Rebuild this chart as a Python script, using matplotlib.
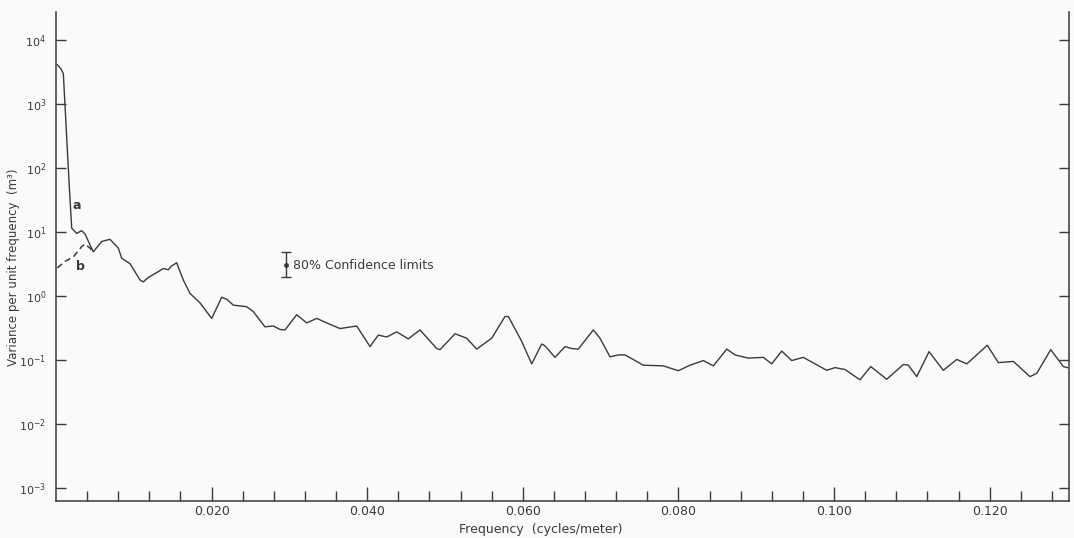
import matplotlib
matplotlib.use("Agg")
import matplotlib.pyplot as plt
from matplotlib.ticker import FixedLocator, NullLocator, FuncFormatter, FormatStrFormatter
import math

# Power spectrum of surface elevation profile
freq_a = [0.00017, 0.00060, 0.00094, 0.00171, 0.00202, 0.00266, 0.00330, 0.00373,
          0.00479, 0.00587, 0.00694, 0.00801, 0.00844, 0.00951, 0.01080, 0.01122,
          0.01186, 0.01294, 0.01379, 0.01443, 0.01487, 0.01551, 0.01636, 0.01722,
          0.01851, 0.02001, 0.02130, 0.02194, 0.02279, 0.02451, 0.02536, 0.02686,
          0.02793, 0.02879, 0.02943, 0.03094, 0.03222, 0.03351, 0.03479, 0.03650,
          0.03865, 0.04036, 0.04143, 0.04251, 0.04379, 0.04528, 0.04679, 0.04893,
          0.04936, 0.05129, 0.05279, 0.05407, 0.05600, 0.05771, 0.05814, 0.05986,
          0.06114, 0.06243, 0.06285, 0.06414, 0.06542, 0.06628, 0.06713, 0.06906,
          0.06992, 0.07121, 0.07228, 0.07314, 0.07549, 0.07806, 0.07999, 0.08149,
          0.08320, 0.08449, 0.08621, 0.08728, 0.08898, 0.09091, 0.09199, 0.09328,
          0.09456, 0.09605, 0.09713, 0.09906, 0.10013, 0.10141, 0.10334, 0.10472,
          0.10677, 0.10891, 0.10955, 0.11063, 0.11221, 0.11405, 0.11577, 0.11706,
          0.11970, 0.12112, 0.12305, 0.12519, 0.12606, 0.12785, 0.12947, 0.12999]
var_a = [4100, 3600, 3000, 51, 11.5, 9.5, 10.5, 9.3,
         4.9, 7.1, 7.7, 5.6, 3.9, 3.2, 1.78, 1.66,
         1.95, 2.32, 2.69, 2.57, 2.95, 3.31, 1.78, 1.10,
         0.78, 0.447, 0.955, 0.89, 0.72, 0.68, 0.57, 0.33,
         0.34, 0.30, 0.295, 0.51, 0.38, 0.447, 0.38, 0.31,
         0.34, 0.162, 0.245, 0.229, 0.275, 0.214, 0.295, 0.151,
         0.145, 0.257, 0.219, 0.148, 0.219, 0.479, 0.479, 0.195,
         0.087, 0.178, 0.166, 0.110, 0.162, 0.151, 0.148, 0.295,
         0.219, 0.112, 0.120, 0.120, 0.083, 0.081, 0.068, 0.083,
         0.098, 0.081, 0.148, 0.120, 0.107, 0.110, 0.087, 0.138,
         0.098, 0.110, 0.093, 0.069, 0.076, 0.071, 0.049, 0.079,
         0.050, 0.085, 0.083, 0.055, 0.135, 0.069, 0.102, 0.087,
         0.170, 0.091, 0.095, 0.055, 0.062, 0.145, 0.079, 0.076]

# Spectrum after trend removal (low-frequency part only)
freq_b = [0.00017, 0.00116, 0.00222, 0.00330, 0.00373, 0.00437, 0.00479]
var_b = [2.75, 3.47, 4.07, 5.9, 6.5, 5.6, 4.9]

# 80% confidence interval marker
ci_freq = 0.0296
ci_center = 3.05
ci_low = 1.98
ci_high = 4.87

x_major = [0.020, 0.040, 0.060, 0.080, 0.100, 0.120]
x_minor = [0.004 * k for k in range(1, 33) if k % 5 != 0]
y_decades = [1e-3, 1e-2, 1e-1, 1e0, 1e1, 1e2, 1e3, 1e4]

ink = "#3a3a3a"
bg = "#f9faf9"


def decade_label(v, pos):
    e = int(round(math.log10(v)))
    return r"$\mathregular{10^{%s}}$" % ("-%d" % -e if e < 0 else "%d" % e)


fig = plt.figure(figsize=(10.74, 5.38), dpi=100, facecolor=bg)
ax = fig.add_axes([56 / 1074, 1 - 501 / 538, (1069 - 56) / 1074, (501 - 12) / 538])
ax.set_facecolor(bg)

ax.plot(freq_a, var_a, color=ink, lw=1.0)
ax.plot(freq_b, var_b, color=ink, lw=1.1, dashes=(4, 2.5))

ax.errorbar([ci_freq], [ci_center],
            yerr=[[ci_center - ci_low], [ci_high - ci_center]],
            fmt="o", ms=2.5, color=ink, ecolor=ink, elinewidth=1.0,
            capsize=3.5, capthick=1.0)
ax.text(ci_freq + 0.0008, ci_center, "80% Confidence limits",
        fontsize=9, color=ink, va="center", ha="left")

ax.text(0.0027, 26, "a", fontsize=9, color=ink, ha="center", va="center",
        fontweight="bold")
ax.text(0.0031, 2.87, "b", fontsize=9, color=ink, ha="center", va="center",
        fontweight="bold")

ax.set_yscale("log")
ax.set_xlim(0, 0.1302)
ax.set_ylim(10 ** -3.203, 10 ** 4.4375)

ax.xaxis.set_major_locator(FixedLocator(x_major))
ax.xaxis.set_minor_locator(FixedLocator(x_minor))
ax.xaxis.set_major_formatter(FormatStrFormatter("%.3f"))
ax.yaxis.set_major_locator(FixedLocator(y_decades))
ax.yaxis.set_minor_locator(NullLocator())
ax.yaxis.set_major_formatter(FuncFormatter(decade_label))

ax.tick_params(axis="x", which="major", direction="in", length=10, width=1.0,
               color=ink, labelcolor=ink, labelsize=9, pad=3)
ax.tick_params(axis="x", which="minor", direction="in", length=7, width=1.0,
               color=ink)
ax.tick_params(axis="y", which="major", direction="in", length=7, width=1.0,
               color=ink, labelcolor=ink, labelsize=8, pad=7,
               left=True, right=True)

for side in ("left", "bottom", "right"):
    ax.spines[side].set_color(ink)
    ax.spines[side].set_linewidth(1.1)
ax.spines["top"].set_visible(False)

fig.text(14 / 1074, 1 - 267 / 538, "Variance per unit frequency  (m³)",
         rotation=90, fontsize=8.5, color=ink, ha="center", va="center")
fig.text(541 / 1074, 1 - 529 / 538, "Frequency  (cycles/meter)",
         fontsize=9, color=ink, ha="center", va="center")

fig.savefig("out.png", dpi=100, facecolor=bg)
